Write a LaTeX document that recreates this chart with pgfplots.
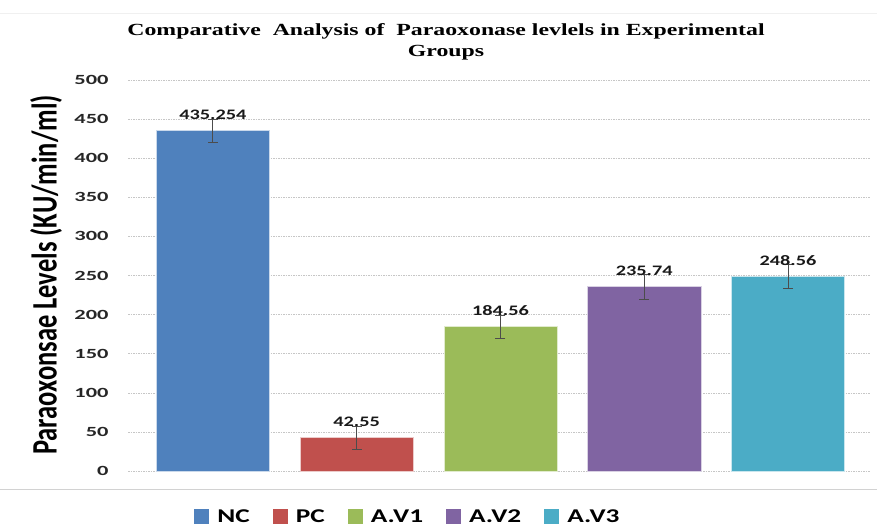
\documentclass[border=0pt]{standalone}
\usepackage{fontspec}
\usepackage{graphicx}
\usepackage{pgfplots}
\pgfplotsset{compat=1.18}
\newfontfamily\carlito{Carlito}
\newfontfamily\tnr{Liberation Serif}
\definecolor{cNC}{HTML}{4F81BD}
\definecolor{cPC}{HTML}{C0504D}
\definecolor{cA1}{HTML}{9BBB59}
\definecolor{cA2}{HTML}{8064A2}
\definecolor{cA3}{HTML}{4BACC6}
\newcommand{\sx}[1]{\scalebox{1.4}[1]{#1}}
\newcommand{\sxt}[1]{\scalebox{1.6}[1]{#1}}
\begin{document}
\begin{tikzpicture}
\useasboundingbox (-128pt,-56pt) rectangle (749pt,471pt);
\fill[white] (-128pt,-56pt) rectangle (749pt,471pt);
\draw[gray!35, line width=0.6pt] (-128pt,-18pt) -- (749pt,-18pt);
\draw[gray!12, line width=0.6pt] (-128pt,458pt) -- (749pt,458pt);
\begin{axis}[
  at={(0pt,0pt)}, anchor=south west,
  scale only axis, width=742pt, height=391pt,
  xmin=-0.59, xmax=4.57, ymin=0, ymax=500,
  ytick={0,50,...,500}, xtick=\empty,
  ymajorgrids,
  grid style={dash pattern=on 1.5pt off 1pt, color=gray!45, line width=0.6pt},
  axis line style={draw=none},
  major tick length=0pt,
  /pgf/number format/assume math mode=true,
  yticklabel={\sxt{\pgfmathprintnumber{\tick}}},
  yticklabel style={font=\carlito\bfseries\fontsize{14}{15}\selectfont, anchor=east, xshift=-16pt, text=black!85},
  ybar, bar width=0.787, bar shift=0pt,
  nodes near coords={\sx{\pgfplotspointmeta}},
  point meta=explicit symbolic,
  every node near coord/.append style={font=\carlito\bfseries\fontsize{14.5}{16}\selectfont, text=black!90, anchor=center, yshift=16pt},
  error bars/y dir=both, error bars/y explicit,
  error bars/error bar style={color=black!70, line width=0.8pt},
  error bars/error mark options={color=black!70, line width=0.8pt, mark size=5pt, rotate=90},
  legend columns=5,
  legend cell align=left,
  legend style={at={(0.378,-0.117)}, anchor=center, draw=none, fill=none,
    font=\carlito\bfseries\fontsize{19.5}{22}\selectfont,
    /tikz/every odd column/.append style={column sep=5pt},
    /tikz/every even column/.append style={column sep=20pt},
    nodes={inner xsep=3pt}},
  legend image code/.code={\fill[#1,draw=none] (0pt,-7.5pt) rectangle (15pt,7.5pt);},
]
\addplot[fill=cNC, draw=white!70!cNC, line width=0.6pt] table[x=x,y=y,y error=e,meta=lab] {
x y e lab
0 435.254 14.5 435.254
};
\addlegendentry{\sx{NC}}
\addplot[fill=cPC, draw=white!70!cPC, line width=0.6pt] table[x=x,y=y,y error=e,meta=lab] {
x y e lab
1 42.55 15 42.55
};
\addlegendentry{\sx{PC}}
\addplot[fill=cA1, draw=white!70!cA1, line width=0.6pt] table[x=x,y=y,y error=e,meta=lab] {
x y e lab
2 184.56 15 184.56
};
\addlegendentry{\sx{A.V1}}
\addplot[fill=cA2, draw=white!70!cA2, line width=0.6pt] table[x=x,y=y,y error=e,meta=lab] {
x y e lab
3 235.74 16 235.74
};
\addlegendentry{\sx{A.V2}}
\addplot[fill=cA3, draw=white!70!cA3, line width=0.6pt] table[x=x,y=y,y error=e,meta=lab] {
x y e lab
4 248.56 15 248.56
};
\addlegendentry{\sx{A.V3}}
\end{axis}
\node[rotate=90, font=\carlito\bfseries\fontsize{26.5}{30}\selectfont] at (-82pt,196pt) {\scalebox{1}[1.35]{Paraoxonsae Levels (KU/min/ml)}};
\node[align=center, font=\tnr\bfseries\fontsize{17}{21}\selectfont, inner sep=0pt] at (318pt,429pt) {\sx{Comparative \ Analysis of \ Paraoxonase levlels in Experimental}\\\sx{Groups}};
\end{tikzpicture}
\end{document}
